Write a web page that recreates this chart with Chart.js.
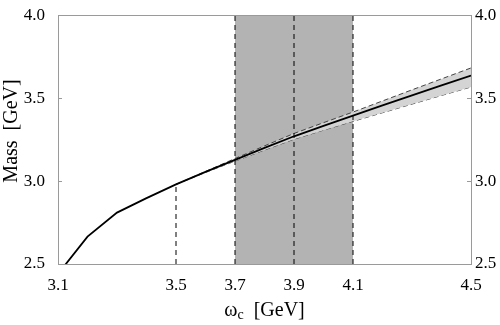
<!DOCTYPE html>
<html>
<head>
<meta charset="utf-8">
<script src="https://cdn.jsdelivr.net/npm/chart.js@4"></script>
<style>
html,body{margin:0;padding:0;background:#fff;}
#wrap{width:500px;height:325px;}
</style>
</head>
<body>
<div id="wrap"><canvas id="c" width="500" height="325"></canvas></div>
<script>
// ---- data ----
const omega = [3.1, 3.2, 3.3, 3.4, 3.5, 3.6, 3.7, 3.8, 3.9, 4.0, 4.1, 4.2, 4.3, 4.4, 4.5];
const massCentral = [2.44, 2.665, 2.81, 2.897, 2.98, 3.055, 3.128, 3.2, 3.27, 3.333, 3.395, 3.456, 3.517, 3.577, 3.636];
const omegaBand = [3.5, 3.6, 3.7, 3.8, 3.9, 4.0, 4.1, 4.2, 4.3, 4.4, 4.5];
const massUpper = [2.98, 3.058, 3.136, 3.212, 3.287, 3.352, 3.416, 3.483, 3.55, 3.616, 3.682];
const massLower = [2.98, 3.052, 3.12, 3.187, 3.252, 3.307, 3.36, 3.412, 3.464, 3.516, 3.567];
const windowLines = [3.7, 3.9, 4.1];
const windowRange = [3.7, 4.1];
const thresholdOmega = 3.5;
const thresholdMass = 2.98;
const xTicks = [3.1, 3.5, 3.7, 3.9, 4.1, 4.5];
const yTicks = [2.5, 3.0, 3.5, 4.0];
const xRange = [3.1, 4.5];
const yRange = [2.5, 4.0];

const toPts = (xs, ys) => xs.map((x, i) => ({x: x, y: ys[i]}));

const datasets = [];
// central curve (on top)
datasets.push({data: toPts(omega, massCentral), borderColor: '#000', borderWidth: 1.8, order: 1, fill: false});
// vertical dashed lines
windowLines.forEach(w => datasets.push({data: [{x: w, y: yRange[0]}, {x: w, y: yRange[1]}], borderColor: '#000', borderWidth: 1, borderDash: [5, 4], order: 3, fill: false}));
datasets.push({data: [{x: thresholdOmega, y: yRange[0]}, {x: thresholdOmega, y: thresholdMass}], borderColor: '#000', borderWidth: 1, borderDash: [5, 4], order: 3, fill: false});
// error band
datasets.push({data: toPts(omegaBand, massUpper), borderColor: '#444', borderWidth: 1, borderDash: [5, 3], order: 5, fill: {target: '+1'}, backgroundColor: '#d4d4d4'});
datasets.push({data: toPts(omegaBand, massLower), borderColor: '#444', borderWidth: 1, borderDash: [5, 3], order: 5, fill: false});
// shaded window
datasets.push({data: [{x: windowRange[0], y: yRange[1]}, {x: windowRange[1], y: yRange[1]}], borderWidth: 0, borderColor: 'rgba(0,0,0,0)', backgroundColor: '#b3b3b3', fill: 'start', order: 9});

const SERIF = '"Liberation Serif", "DejaVu Serif", serif';

const decor = {
  id: 'decor',
  afterDraw(chart) {
    const ctx = chart.ctx;
    const a = chart.chartArea;
    const ys = chart.scales.y;
    ctx.save();
    // frame
    ctx.strokeStyle = '#9a9a9a';
    ctx.lineWidth = 1;
    ctx.strokeRect(Math.round(a.left) + 0.5, Math.round(a.top) + 0.5, Math.round(a.right - a.left), Math.round(a.bottom - a.top));
    // inward ticks on left and right
    yTicks.forEach(v => {
      const py = Math.round(ys.getPixelForValue(v)) + 0.5;
      ctx.beginPath();
      ctx.moveTo(a.left, py); ctx.lineTo(a.left + 4, py);
      ctx.moveTo(a.right, py); ctx.lineTo(a.right - 4, py);
      ctx.stroke();
    });
    ctx.fillStyle = '#000';
    // right-hand tick labels
    ctx.font = '17px ' + SERIF;
    ctx.textAlign = 'left'; ctx.textBaseline = 'middle';
    yTicks.forEach(v => {
      ctx.fillText(v.toFixed(1), a.right + 4, ys.getPixelForValue(v));
    });
    // x title with subscript
    const big = '20px ' + SERIF, small = '14px ' + SERIF;
    ctx.font = big; const wW = ctx.measureText('ω').width;
    ctx.font = small; const wc = ctx.measureText('c').width;
    ctx.font = big; const wr = ctx.measureText('  [GeV]').width;
    const total = wW + wc + wr;
    let x0 = (a.left + a.right) / 2 - total / 2;
    const base = 316;
    ctx.textBaseline = 'alphabetic'; ctx.textAlign = 'left';
    ctx.font = big; ctx.fillText('ω', x0, base);
    ctx.font = small; ctx.fillText('c', x0 + wW, base + 3);
    ctx.font = big; ctx.fillText('  [GeV]', x0 + wW + wc, base);
    // y title
    ctx.translate(16.5, 131);
    ctx.rotate(-Math.PI / 2);
    ctx.textAlign = 'center';
    ctx.font = big;
    ctx.fillText('Mass  [GeV]', 0, 0);
    ctx.restore();
  }
};

const tickFont = {family: SERIF, size: 17};

new Chart(document.getElementById('c'), {
  type: 'scatter',
  data: {datasets: datasets},
  options: {
    responsive: false,
    animation: false,
    events: [],
    layout: {padding: {top: 10, left: 0, right: 0, bottom: 0}},
    elements: {point: {radius: 0}, line: {tension: 0}},
    datasets: {scatter: {showLine: true}},
    plugins: {legend: {display: false}, tooltip: {enabled: false}},
    scales: {
      x: {
        type: 'linear', min: xRange[0], max: xRange[1],
        grid: {display: false}, border: {display: false},
        afterBuildTicks: s => { s.ticks = xTicks.map(v => ({value: v})); },
        afterFit: s => { s.height = 61; },
        ticks: {autoSkip: false, maxRotation: 0, padding: 3, color: '#000', font: tickFont, callback: v => Number(v).toFixed(1)}
      },
      y: {
        type: 'linear', position: 'left', min: yRange[0], max: yRange[1],
        grid: {display: false}, border: {display: false},
        afterBuildTicks: s => { s.ticks = yTicks.map(v => ({value: v})); },
        afterFit: s => { s.width = 58; },
        ticks: {padding: 5, color: '#000', font: tickFont, callback: v => Number(v).toFixed(1)}
      },
      y2: {
        type: 'linear', position: 'right', min: yRange[0], max: yRange[1],
        grid: {display: false}, border: {display: false},
        afterBuildTicks: s => { s.ticks = yTicks.map(v => ({value: v})); },
        afterFit: s => { s.width = 29; },
        ticks: {display: false}
      }
    }
  },
  plugins: [decor]
});
</script>
</body>
</html>
